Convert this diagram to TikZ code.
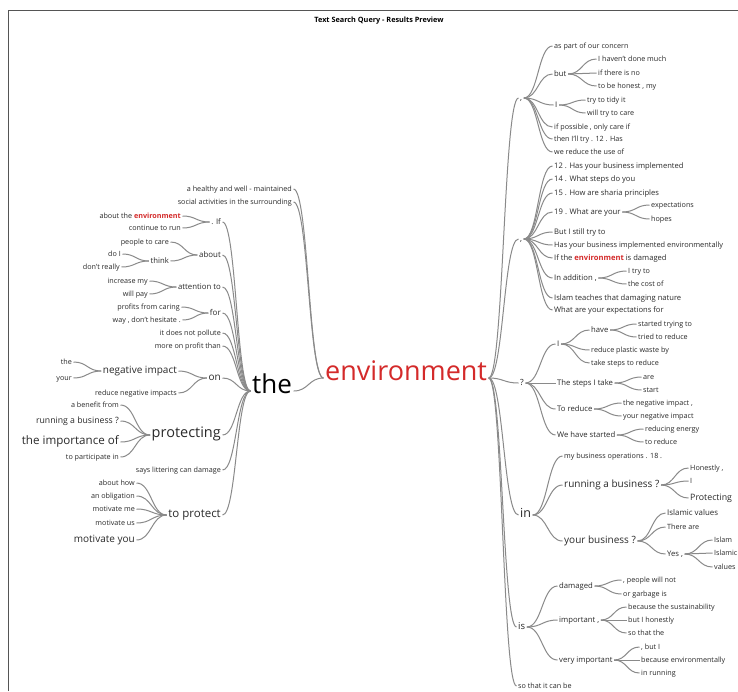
\documentclass[tikz,border=0pt]{standalone}
\usepackage{fontspec}
\setmainfont{Open Sans}
\usetikzlibrary{calc}
\definecolor{txt}{HTML}{2A2A2A}
\definecolor{lnk}{HTML}{8A8A8A}
\definecolor{hit}{HTML}{D42A2A}
\definecolor{frame}{HTML}{555555}
\newcommand\hl[1]{\textcolor{hit}{\textbf{#1}}}
% word nodes: R = grows to the right (anchored west), L = grows to the left (anchored east)
\newcommand\R[5]{\node[rnode,font=\fontsize{#4}{#4}\selectfont] (#1) at (#2,#3) {#5};}
\newcommand\Lw[5]{\node[lnode,font=\fontsize{#4}{#4}\selectfont] (#1) at (#2,#3) {#5};}
% curved branch from a parent to a child on the right side
\newcommand\rlink[2]{%
  \path ([xshift=1.5pt]#1.mid east) coordinate (la)
        ([xshift=-1.5pt]#2.mid west) coordinate (lb)
        ($(la)!.5!(lb)$) coordinate (lm);
  \draw[link] (la) .. controls (lm |- la) and (lm |- lb) .. (lb);}
% curved branch from a parent to a child on the left side
\newcommand\llink[2]{%
  \path ([xshift=-1.5pt]#1.mid west) coordinate (la)
        ([xshift=1.5pt]#2.mid east) coordinate (lb)
        ($(la)!.5!(lb)$) coordinate (lm);
  \draw[link] (la) .. controls (lm |- la) and (lm |- lb) .. (lb);}
\tikzset{
  rnode/.style={anchor=mid west, inner sep=0pt, text=txt},
  lnode/.style={anchor=mid east, inner sep=0pt, text=txt},
  link/.style={draw=lnk, line width=1pt},
}
\begin{document}
\begin{tikzpicture}[x=1pt,y=-1pt]
\useasboundingbox (0,0) rectangle (738,691);
\fill[white] (0,0) rectangle (738,691);
\draw[frame, line width=0.9pt] (8,691) -- (8,10) -- (738,10);
\node[text=black, font=\bfseries\fontsize{7.3}{7.3}\selectfont] (title) at (379,21) {Text Search Query - Results Preview};

% centre of the tree
\node[rnode, text=hit, font=\fontsize{27}{27}\selectfont] (env) at (325,378) {environment};
\node[rnode, text=black, font=\fontsize{26}{26}\selectfont] (the) at (252,391) {the};

% ---------- left side ----------
\Lw{hw}{292}{189}{7.2}{a healthy and well - maintained}
\Lw{sa}{292}{202}{7.2}{social activities in the surrounding}
\Lw{If}{221}{222}{7.7}{. If}
\Lw{ate}{181}{216}{7.2}{about the \hl{environment}}
\Lw{ctr}{181}{228}{7.2}{continue to run}
\Lw{about}{221}{255}{7.9}{about}
\Lw{ptc}{169}{242}{7.2}{people to care}
\Lw{think}{169}{261}{7.7}{think}
\Lw{doI}{121}{254}{7.2}{do I}
\Lw{dr}{120}{267}{7.2}{don't really}
\Lw{att}{221}{287}{7.8}{attention to}
\Lw{incr}{148}{281}{7.2}{increase my}
\Lw{wpay}{148}{294}{7.2}{will pay}
\Lw{for}{221}{313}{8}{for}
\Lw{pfc}{180}{307}{7.2}{profits from caring}
\Lw{wdh}{181}{320}{7.2}{way , don't hesitate .}
\Lw{idnp}{221}{333}{7.2}{it does not pollute}
\Lw{mopt}{221}{346}{7.2}{more on profit than}
\Lw{on}{221}{378}{10}{on}
\Lw{ni}{177}{371}{10}{negative impact}
\Lw{thel}{72}{362}{7.2}{the}
\Lw{your}{72}{378}{7.2}{your}
\Lw{rni}{177}{393}{7.2}{reduce negative impacts}
\Lw{prot}{221}{435}{14.5}{protecting}
\Lw{abf}{119}{405}{7.2}{a benefit from}
\Lw{rab}{119}{421}{8.7}{running a business ?}
\Lw{tio}{119}{442}{11.6}{the importance of}
\Lw{tpi}{119}{457}{7.2}{to participate in}
\Lw{slcd}{221}{470}{7.2}{says littering can damage}
\Lw{tp}{221}{515}{11.5}{to protect}
\Lw{ah}{135}{483}{7.2}{about how}
\Lw{ao}{135}{496}{7.2}{an obligation}
\Lw{mme}{135}{509}{7.2}{motivate me}
\Lw{mus}{135}{523}{7.2}{motivate us}
\Lw{myou}{135}{540}{10}{motivate you}

\foreach \c in {the,hw,sa} {\llink{env}{\c}}
\foreach \c in {If,about,att,for,idnp,mopt,on,prot,slcd,tp} {\llink{the}{\c}}
\foreach \c in {ate,ctr} {\llink{If}{\c}}
\foreach \c in {ptc,think} {\llink{about}{\c}}
\foreach \c in {doI,dr} {\llink{think}{\c}}
\foreach \c in {incr,wpay} {\llink{att}{\c}}
\foreach \c in {pfc,wdh} {\llink{for}{\c}}
\foreach \c in {ni,rni} {\llink{on}{\c}}
\foreach \c in {thel,your} {\llink{ni}{\c}}
\foreach \c in {abf,rab,tio,tpi} {\llink{prot}{\c}}
\foreach \c in {ah,ao,mme,mus,myou} {\llink{tp}{\c}}

% ---------- right side ----------
\R{c1}{520}{98}{8}{,}
\R{apc}{554}{46}{7.2}{as part of our concern}
\R{but}{554}{74}{7.7}{but}
\R{ihdm}{598}{59}{7.2}{I haven't done much}
\R{itin}{598}{73}{7.2}{if there is no}
\R{tbh}{598}{86}{7.2}{to be honest , my}
\R{Ia}{555}{105}{7.7}{I}
\R{ttti}{587}{100}{7.2}{try to tidy it}
\R{wttc}{587}{113}{7.2}{will try to care}
\R{ipoc}{554}{127}{7.2}{if possible , only care if}
\R{tit}{554}{139}{7.2}{then I'll try . 12 . Has}
\R{wrtu}{554}{152}{7.2}{we reduce the use of}

\R{c2}{520}{239}{8}{,}
\R{hybi}{554}{166}{7.6}{12 . Has your business implemented}
\R{wsdy}{554}{179}{7.6}{14 . What steps do you}
\R{hasp}{554}{193}{7.6}{15 . How are sharia principles}
\R{wayr}{554}{212}{7.7}{19 . What are your}
\R{expc}{651}{205}{7.2}{expectations}
\R{hopes}{651}{219}{7.2}{hopes}
\R{bist}{554}{232}{7.6}{But I still try to}
\R{hybie}{554}{245}{7.4}{Has your business implemented environmentally}
\R{ited}{554}{258}{7.6}{If the \hl{environment} is damaged}
\R{inadd}{554}{278}{7.7}{In addition ,}
\R{itt}{628}{271}{7.2}{I try to}
\R{tco}{628}{284}{7.2}{the cost of}
\R{itdn}{554}{298}{7.6}{Islam teaches that damaging nature}
\R{wayef}{554}{310}{7.6}{What are your expectations for}

\R{q}{520}{383}{8.5}{?}
\R{Ib}{557}{344}{7.7}{I}
\R{have}{591}{330}{7.7}{have}
\R{stt}{638}{324}{7.2}{started trying to}
\R{ttr}{638}{337}{7.2}{tried to reduce}
\R{rpwb}{591}{350}{7.2}{reduce plastic waste by}
\R{tstr}{591}{363}{7.2}{take steps to reduce}
\R{tsit}{557}{383}{7.7}{The steps I take}
\R{are}{643}{377}{7.2}{are}
\R{start}{643}{390}{7.2}{start}
\R{tored}{557}{409}{7.7}{To reduce}
\R{tni}{623}{403}{7.2}{the negative impact ,}
\R{yni}{623}{416}{7.2}{your negative impact}
\R{whs}{557}{435}{7.7}{We have started}
\R{ren}{645}{429}{7.2}{reducing energy}
\R{tred}{645}{442}{7.2}{to reduce}

\R{in}{520}{515}{12.5}{in}
\R{mbo}{564}{456}{7.2}{my business operations . 18 .}
\R{rabr}{564}{485}{10}{running a business ?}
\R{hon}{690}{468}{7.2}{Honestly ,}
\R{Ic}{690}{481}{7.2}{I}
\R{protr}{690}{498}{8.8}{Protecting}
\R{yb}{564}{541}{10}{your business ?}
\R{iv}{667}{513}{7.9}{Islamic values}
\R{ta}{667}{527}{7.2}{There are}
\R{yes}{667}{554}{7.7}{Yes ,}
\R{islam}{714}{540}{7.2}{Islam}
\R{islamic}{714}{553}{7.2}{Islamic}
\R{values}{714}{567}{7.2}{values}

\R{is}{518}{627}{9.5}{is}
\R{dam}{559}{586}{7.7}{damaged}
\R{pwn}{623}{580}{7.2}{, people will not}
\R{ogi}{623}{594}{7.2}{or garbage is}
\R{imp}{559}{620}{7.7}{important ,}
\R{bts}{628}{607}{7.2}{because the sustainability}
\R{bih}{628}{620}{7.2}{but I honestly}
\R{sthe}{628}{633}{7.2}{so that the}
\R{vimp}{559}{660}{7.7}{very important}
\R{bI}{641}{647}{7.2}{, but I}
\R{bee}{641}{660}{7.2}{because environmentally}
\R{irun}{641}{673}{7.2}{in running}
\R{stcb}{518}{686}{7.2}{so that it can be}

\foreach \c in {c1,c2,q,in,is,stcb} {\rlink{env}{\c}}
\foreach \c in {apc,but,Ia,ipoc,tit,wrtu} {\rlink{c1}{\c}}
\foreach \c in {ihdm,itin,tbh} {\rlink{but}{\c}}
\foreach \c in {ttti,wttc} {\rlink{Ia}{\c}}
\foreach \c in {hybi,wsdy,hasp,wayr,bist,hybie,ited,inadd,itdn,wayef} {\rlink{c2}{\c}}
\foreach \c in {expc,hopes} {\rlink{wayr}{\c}}
\foreach \c in {itt,tco} {\rlink{inadd}{\c}}
\foreach \c in {Ib,tsit,tored,whs} {\rlink{q}{\c}}
\foreach \c in {have,rpwb,tstr} {\rlink{Ib}{\c}}
\foreach \c in {stt,ttr} {\rlink{have}{\c}}
\foreach \c in {are,start} {\rlink{tsit}{\c}}
\foreach \c in {tni,yni} {\rlink{tored}{\c}}
\foreach \c in {ren,tred} {\rlink{whs}{\c}}
\foreach \c in {mbo,rabr,yb} {\rlink{in}{\c}}
\foreach \c in {hon,Ic,protr} {\rlink{rabr}{\c}}
\foreach \c in {iv,ta,yes} {\rlink{yb}{\c}}
\foreach \c in {islam,islamic,values} {\rlink{yes}{\c}}
\foreach \c in {dam,imp,vimp} {\rlink{is}{\c}}
\foreach \c in {pwn,ogi} {\rlink{dam}{\c}}
\foreach \c in {bts,bih,sthe} {\rlink{imp}{\c}}
\foreach \c in {bI,bee,irun} {\rlink{vimp}{\c}}
\end{tikzpicture}
\end{document}
